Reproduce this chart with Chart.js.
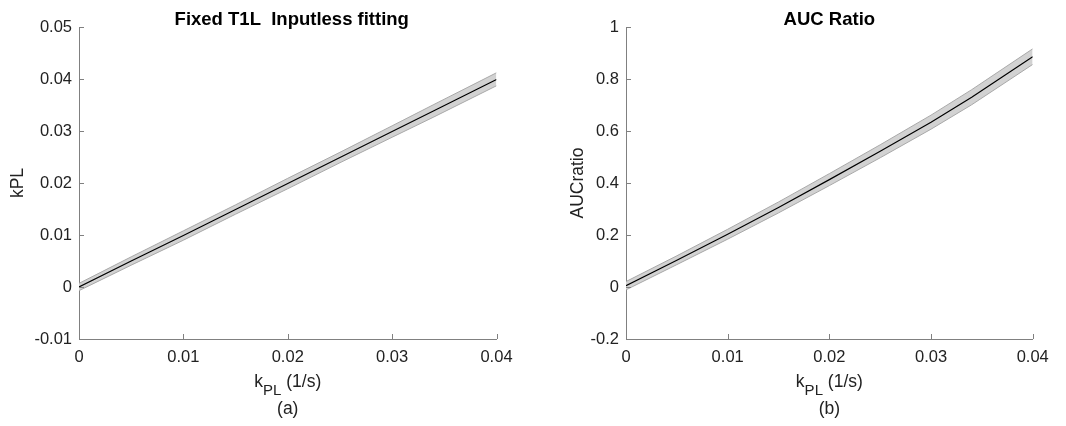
<!DOCTYPE html>
<html>
<head>
<meta charset="utf-8">
<script src="https://cdn.jsdelivr.net/npm/chart.js@4/dist/chart.umd.min.js"></script>
<style>
  body { margin: 0; background: #fff; }
  .wrap { position: absolute; top: 0; height: 426px; }
  #leftWrap { left: 0; width: 530px; }
  #rightWrap { left: 530px; width: 536px; }
</style>
</head>
<body>
<div class="wrap" id="leftWrap"><canvas id="leftChart"></canvas></div>
<div class="wrap" id="rightWrap"><canvas id="rightChart"></canvas></div>
<script>
// true kPL values (x axis, 1/s)
const kplTrue = [0, 0.005, 0.01, 0.015, 0.02, 0.025, 0.03, 0.034, 0.04];

// (a) fitted kPL: mean and band
const fitMean  = [0.0000, 0.0050, 0.0099, 0.0149, 0.0199, 0.0249, 0.0299, 0.0339, 0.0399];
const fitUpper = [0.0007, 0.0058, 0.0108, 0.0158, 0.0209, 0.0259, 0.0310, 0.0351, 0.0412];
const fitLower = [-0.0007, 0.0042, 0.0090, 0.0140, 0.0189, 0.0239, 0.0288, 0.0327, 0.0387];

// (b) AUC ratio: mean and band
const aucMean  = [0.005, 0.103, 0.203, 0.306, 0.413, 0.522, 0.634, 0.730, 0.886];
const aucUpper = [0.021, 0.120, 0.222, 0.327, 0.436, 0.547, 0.661, 0.759, 0.916];
const aucLower = [-0.011, 0.086, 0.184, 0.285, 0.390, 0.497, 0.607, 0.701, 0.856];

// tick labels
const xTicks = [0, 0.01, 0.02, 0.03, 0.04];
const fitTicks = [-0.01, 0, 0.01, 0.02, 0.03, 0.04, 0.05];
const aucTicks = [-0.2, 0, 0.2, 0.4, 0.6, 0.8, 1];

const AXIS = '#808080';
const TEXT = '#222222';
const FONT = '"Liberation Sans", Arial, Helvetica, sans-serif';

function pts(ys) {
    return kplTrue.map((x, i) => ({ x: x, y: ys[i] }));
}

const axesText = {
    id: 'axesText',
    afterDraw(chart, args, opts) {
        const { ctx, chartArea, scales } = chart;
        const midX = (chartArea.left + chartArea.right) / 2;
        const midY = (chartArea.top + chartArea.bottom) / 2;
        ctx.save();
        // inward ticks
        ctx.strokeStyle = AXIS;
        ctx.lineWidth = 1;
        ctx.beginPath();
        scales.x.ticks.forEach(t => {
            const px = Math.round(scales.x.getPixelForValue(t.value)) + 0.5;
            ctx.moveTo(px, chartArea.bottom);
            ctx.lineTo(px, chartArea.bottom - 5);
        });
        scales.y.ticks.forEach(t => {
            const py = Math.round(scales.y.getPixelForValue(t.value)) + 0.5;
            ctx.moveTo(chartArea.left, py);
            ctx.lineTo(chartArea.left + 5, py);
        });
        ctx.stroke();

        ctx.fillStyle = '#000';
        ctx.textAlign = 'center';
        ctx.textBaseline = 'alphabetic';
        ctx.font = 'bold 18.5px ' + FONT;
        ctx.fillText(opts.title, midX + opts.titleShift, 25);

        // y axis title
        ctx.fillStyle = TEXT;
        ctx.font = '17.5px ' + FONT;
        ctx.save();
        ctx.translate(opts.yTitleX, midY);
        ctx.rotate(-Math.PI / 2);
        ctx.textBaseline = 'middle';
        ctx.fillText(opts.yTitle, 0, 0);
        ctx.restore();

        // x axis title: k with subscript PL
        const mainFont = '17.5px ' + FONT;
        const subFont = '15px ' + FONT;
        ctx.font = mainFont;
        const wk = ctx.measureText('k').width;
        const wRest = ctx.measureText(' (1/s)').width;
        ctx.font = subFont;
        const wSub = ctx.measureText('PL').width;
        let x0 = midX - (wk + wSub + wRest) / 2;
        ctx.textAlign = 'left';
        ctx.font = mainFont;
        ctx.fillText('k', x0, 387);
        ctx.font = subFont;
        ctx.fillText('PL', x0 + wk, 395);
        ctx.font = mainFont;
        ctx.fillText(' (1/s)', x0 + wk + wSub, 387);

        ctx.textAlign = 'center';
        ctx.fillText(opts.panel, midX, 414);
        ctx.restore();
    }
};

function makeChart(canvasId, mean, upper, lower, yMin, yMax, yTicks, cfg) {
    const ctx = document.getElementById(canvasId).getContext('2d');
    return new Chart(ctx, {
        type: 'line',
        data: {
            datasets: [
                {
                    data: pts(mean),
                    borderColor: '#000',
                    borderWidth: 1.2,
                    pointRadius: 0,
                    fill: false
                },
                {
                    data: pts(lower),
                    borderColor: '#a9a9a9',
                    borderWidth: 1,
                    pointRadius: 0,
                    fill: false
                },
                {
                    data: pts(upper),
                    borderColor: '#a9a9a9',
                    borderWidth: 1,
                    pointRadius: 0,
                    backgroundColor: '#d2d2d2',
                    fill: '-1'
                }
            ]
        },
        options: {
            responsive: true,
            maintainAspectRatio: false,
            animation: false,
            layout: {
                padding: { top: 27, right: cfg.padRight, left: 0, bottom: 0 }
            },
            plugins: {
                legend: { display: false },
                tooltip: { enabled: false },
                axesText: cfg.text
            },
            scales: {
                x: {
                    type: 'linear',
                    min: 0,
                    max: 0.04,
                    afterBuildTicks: s => { s.ticks = xTicks.map(v => ({ value: v })); },
                    afterFit: s => { s.height = 87; },
                    grid: { display: false, drawTicks: false },
                    border: { display: true, color: AXIS, width: 1 },
                    ticks: {
                        padding: 9,
                        color: TEXT,
                        maxRotation: 0,
                        font: { family: FONT, size: 16.5 },
                        callback: v => String(v)
                    }
                },
                y: {
                    type: 'linear',
                    min: yMin,
                    max: yMax,
                    afterBuildTicks: s => { s.ticks = yTicks.map(v => ({ value: v })); },
                    afterFit: s => { s.width = cfg.yWidth; },
                    grid: { display: false, drawTicks: false },
                    border: { display: true, color: AXIS, width: 1 },
                    ticks: {
                        padding: 7,
                        color: TEXT,
                        font: { family: FONT, size: 16.5 },
                        callback: v => String(v)
                    }
                }
            }
        },
        plugins: [axesText]
    });
}

makeChart('leftChart', fitMean, fitUpper, fitLower, -0.01, 0.05, fitTicks, {
    padRight: 33.5,
    yWidth: 79,
    text: { title: 'Fixed T1L  Inputless fitting', titleShift: 4, yTitle: 'kPL', yTitleX: 18, panel: '(a)' }
});

makeChart('rightChart', aucMean, aucUpper, aucLower, -0.2, 1, aucTicks, {
    padRight: 33.3,
    yWidth: 96,
    text: { title: 'AUC Ratio', titleShift: 0, yTitle: 'AUCratio', yTitleX: 48, panel: '(b)' }
});
</script>
</body>
</html>
